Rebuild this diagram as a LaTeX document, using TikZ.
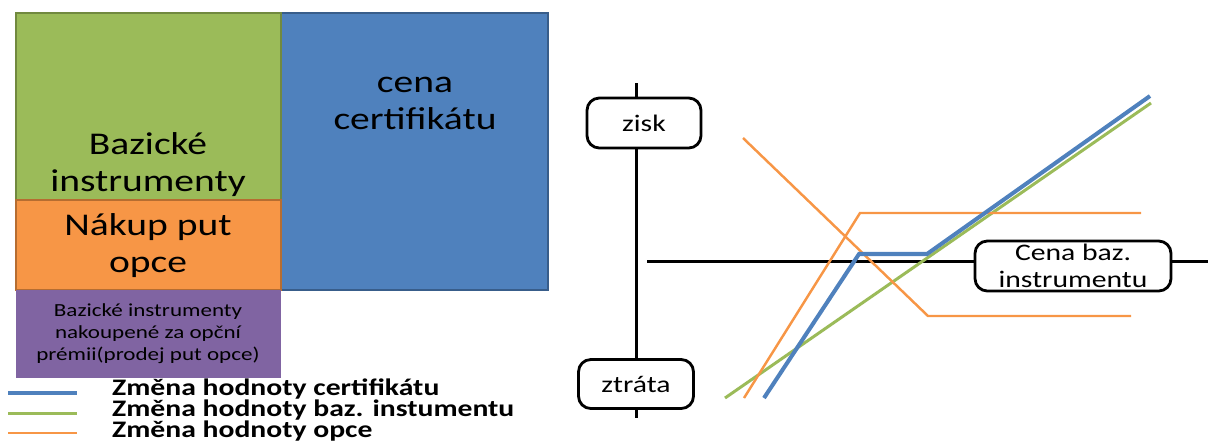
\documentclass[tikz,border=0pt]{standalone}
\usepackage{fontspec}
\setmainfont{Carlito}[FakeStretch=1.25]
\usetikzlibrary{positioning}

\definecolor{bazgreen}{HTML}{9BBB59}
\definecolor{bazgreenline}{HTML}{71893F}
\definecolor{opceorange}{HTML}{F79646}
\definecolor{opceorangeline}{HTML}{B66D31}
\definecolor{certblue}{HTML}{4F81BD}
\definecolor{certblueline}{HTML}{385D8A}
\definecolor{premiepurple}{HTML}{8064A2}
\definecolor{premiepurpleline}{HTML}{5C4776}

\begin{document}
\begin{tikzpicture}[x=0.02cm,y=-0.02cm,
    axislabel/.style={draw,line width=1.6pt,rounded corners=7pt,fill=white,
      inner sep=0pt,align=center,font=\fontsize{13.5}{15}\selectfont},
    bigtext/.style={align=center,font=\fontsize{18}{21}\selectfont},
    legtext/.style={anchor=west,font=\bfseries\fontsize{13.5}{12}\selectfont},
    certline/.style={certblue,line width=2.3pt},
    bazline/.style={bazgreen,line width=1.7pt},
    opceline/.style={opceorange,line width=1.4pt}]
  \useasboundingbox (0,0) rectangle (1214,441);
  % certificate price split into its parts
  \filldraw[fill=certblue,draw=certblueline,line width=1.2pt] (281,13) rectangle (548,290);
  \filldraw[fill=bazgreen,draw=bazgreenline,line width=1.2pt] (16,13) rectangle (281,200);
  \filldraw[fill=opceorange,draw=opceorangeline,line width=1.2pt] (16,200) rectangle (281,290);
  \fill[premiepurple] (16,290) rectangle (281,378);
  \node[bigtext] (cena) at (415,103) {cena\\certifikátu};
  \node[bigtext] (bazicke) at (148,165) {Bazické\\instrumenty};
  \node[bigtext] (nakup) at (148,246) {Nákup put\\opce};
  \node[align=center,font=\fontsize{10.5}{12.5}\selectfont] (premie) at (148,334)
    {Bazické instrumenty\\nakoupené za opční\\prémii(prodej put opce)};
  % legend
  \draw[certline] (8,393) -- (77,393);
  \draw[bazline] (8,413) -- (77,413);
  \draw[opceline] (8,433) -- (77,433);
  \node[legtext] (leg1) at (106,389) {Změna hodnoty certifikátu};
  \node[legtext] (leg2) at (106,410) {Změna hodnoty baz. instumentu};
  \node[legtext] (leg3) at (106,431) {Změna hodnoty opce};
  % axes
  \node[axislabel,minimum width=2.28cm,minimum height=1cm] (zisk) at (644,123) {zisk};
  \node[axislabel,minimum width=2.3cm,minimum height=0.98cm] (ztrata) at (636,384) {ztráta};
  \node[axislabel,minimum width=3.92cm,minimum height=1cm] (podklad) at (1073,266)
    {Cena baz.\\instrumentu};
  \coordinate (ytop) at (636,83);
  \coordinate (ybot) at (636,418);
  \coordinate (xleft) at (647,261);
  \coordinate (xright) at (1208,261);
  \draw[line width=1.7pt] (ytop) -- (ytop |- zisk.north);
  \draw[line width=1.7pt] (ytop |- zisk.south) -- (ytop |- ztrata.north);
  \draw[line width=1.7pt] (ytop |- ztrata.south) -- (ybot);
  \draw[line width=1.7pt] (xleft) -- (xleft -| podklad.west);
  \draw[line width=1.7pt] (xleft -| podklad.east) -- (xright);
  % payoff lines
  \draw[bazline] (725,398) -- (1151,103);
  \draw[opceline] (744,398) -- (860,213) -- (1141,213);
  \draw[opceline] (743,138) -- (928,316) -- (1131,316);
  \draw[certline] (764,398) -- (859,254) -- (927,254) -- (1150,96);
\end{tikzpicture}
\end{document}
